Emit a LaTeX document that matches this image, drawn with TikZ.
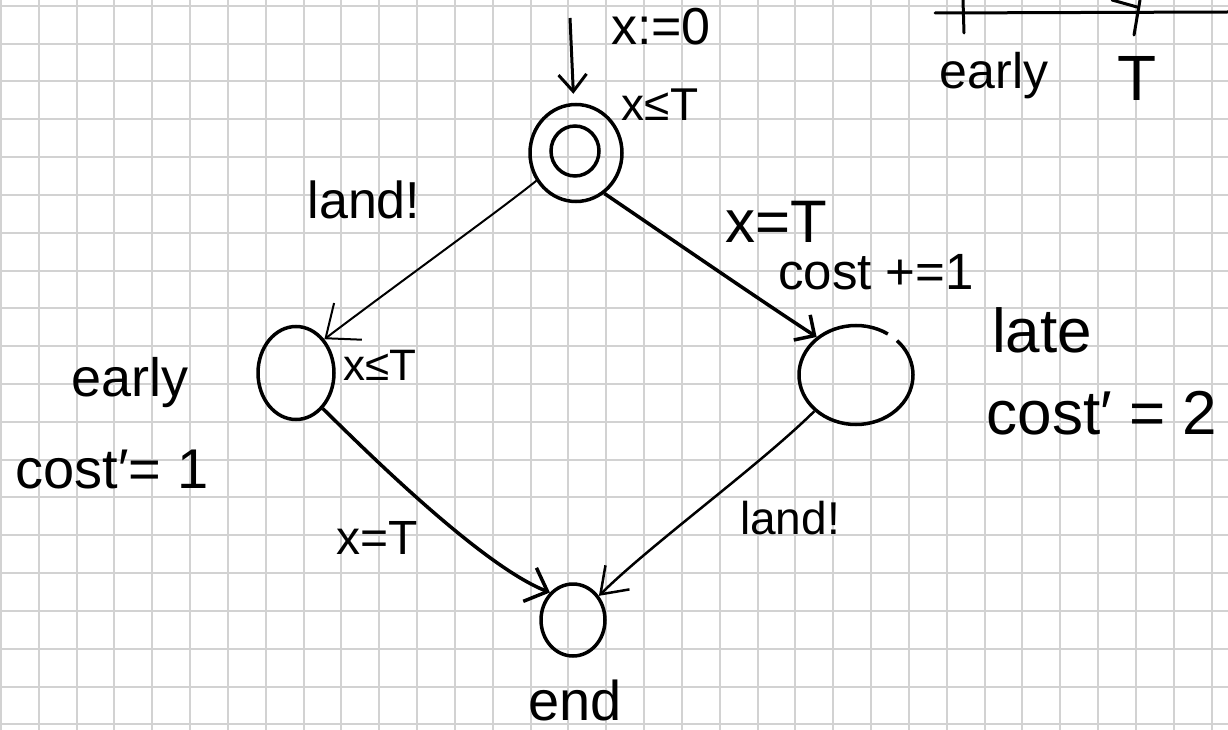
\documentclass[tikz,border=0pt]{standalone}
\usepackage{fontspec}
\setmainfont{Liberation Sans}
\usetikzlibrary{arrows.meta,shapes.geometric}
\begin{document}
\begin{tikzpicture}[
        x=1pt, y=-1pt,
        gridline/.style={draw=gray!35, line width=2pt},
        state/.style={draw, ellipse, line width=3.5pt, inner sep=0pt},
        lbl/.style={font=\fontsize{#1pt}{#1pt}\selectfont, inner sep=0pt},
        lbl/.default=50,
        thin edge/.style={draw, line width=2pt, -{Straight Barb[length=28pt,width=46pt]}},
        thick edge/.style={draw, line width=3.5pt, -{Straight Barb[length=15pt,width=30pt]}},
        stroke/.style={draw, line width=3pt, line cap=round},
    ]
    \useasboundingbox (0,0) rectangle (1228,730);
    \fill[white] (0,0) rectangle (1228,730);
    \foreach \i in {0,...,32}
        \draw[gridline] ({1+37.83*\i},0) -- ({1+37.83*\i},730);
    \foreach \j in {0,...,19}
        \draw[gridline] (0,{5.7+37.83*\j}) -- (1228,{5.7+37.83*\j});

    \node[state, minimum width=92pt, minimum height=97pt](start) at (576,153){};
    \node[state, minimum width=48pt, minimum height=50pt](startin) at (575,151){};
    \node[state, minimum width=76pt, minimum height=93pt](early) at (296,373){};
    \node[state, draw=none, minimum width=114pt, minimum height=99pt](late) at (856,375){};
    \draw[line width=3.5pt] (late.center) ++(56:57pt and 49.5pt)
        arc[start angle=56, end angle=404, x radius=57pt, y radius=49.5pt];
    \node[state, minimum width=64pt, minimum height=72pt](end) at (573,620){};

    \coordinate(initfrom) at (570,18);
    \draw[thick edge, line width=3pt, shorten >=9pt, -{Straight Barb[length=17pt,width=28pt]}] (initfrom) -- (start);
    \draw[thin edge] (start.215) .. controls (500,210) and (400,282) .. (early.50);
    \draw[thick edge] (start.305) .. controls (680,245) and (760,300) .. (late.136);
    \draw[thick edge, -{Straight Barb[length=19pt,width=36pt]}] (early.307) .. controls (360,445) and (480,565) .. (end.130);
    \draw[thin edge, line width=2.5pt, -{Straight Barb[length=24pt,width=34pt]}] (late.221) .. controls (760,465) and (650,545) .. (end.43);

    \node[lbl=52](initlbl) at (661,27){x:=0};
    \node[lbl=46](startinv) at (660,105){x≤T};
    \node[lbl=52](landa) at (364,200){land!};
    \node[lbl=60](guardlate) at (776,222){x=T};
    \node[lbl=51](costinc) at (876,272){cost +=1};
    \node[lbl=62](latename) at (1042,330){late};
    \node[lbl=62](latecost) at (1102,413){cost′ = 2};
    \node[lbl=54](earlyname) at (130,383){early};
    \node[lbl=56](earlycost) at (112,470){cost′= 1};
    \node[lbl=44](earlyinv) at (380,365){x≤T};
    \node[lbl=48](guardend) at (377,538){x=T};
    \node[lbl=46](landb) at (790,518){land!};
    \node[lbl=56](endname) at (575,700){end};

    \draw[stroke] (935,13) -- (1228,12);
    \draw[stroke] (963,0) -- (964,33);
    \draw[stroke] (1112,0) -- (1137,7);
    \draw[stroke] (1140,0) -- (1134,35);
    \node[lbl=50](tearly) at (994,76){early};
    \node[lbl=64](tT) at (1137,78){T};
\end{tikzpicture}
\end{document}
